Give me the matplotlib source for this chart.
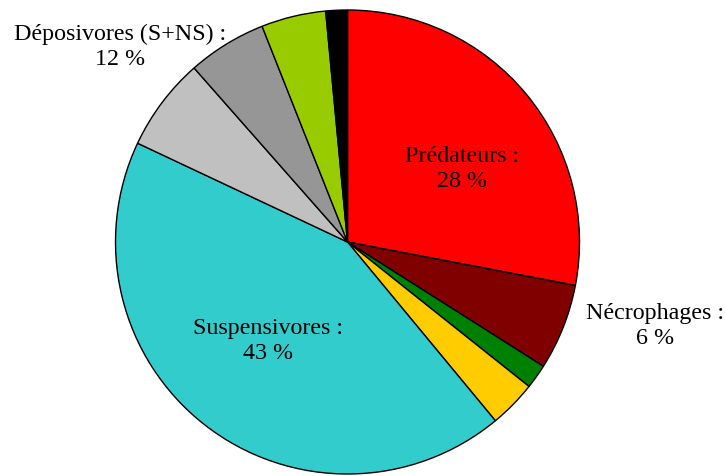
import matplotlib
matplotlib.use("Agg")
import matplotlib.pyplot as plt

# trophic groups, clockwise from 12 o'clock
groups = ["Prédateurs", "Nécrophages", "g1", "g2", "Suspensivores",
          "Déposivores S", "Déposivores NS", "g3", "g4"]
shares = [28, 6, 1.7, 3.3, 43, 6.5, 5.5, 4.5, 1.5]
colors = ["#FF0000", "#800000", "#008000", "#FFCC00", "#33CCCC",
          "#C0C0C0", "#969696", "#99CC00", "#000000"]

labels = [
    ("Prédateurs :\n28 %", 462, 169),
    ("Nécrophages :\n6 %", 655, 326),
    ("Suspensivores :\n43 %", 268, 341),
    ("Déposivores (S+NS) :\n12 %", 120, 47),
]

plt.rcParams["font.family"] = ["Liberation Serif", "DejaVu Serif"]

fig = plt.figure(figsize=(7.25, 4.77), dpi=100)
W, H = 725, 477
cx, cy, r = 347.5, 243, 232
ax = fig.add_axes([(cx - r) / W, (H - cy - r) / H, 2 * r / W, 2 * r / H])

ax.pie(shares, colors=colors, startangle=90, counterclock=False,
       wedgeprops=dict(edgecolor="black", linewidth=1.0))
ax.set_xlim(-1, 1)
ax.set_ylim(-1, 1)
ax.set_aspect("equal")
ax.axis("off")

for txt, px, py in labels:
    ax.text((px - cx) / r, (cy - py) / r, txt, ha="center", va="center",
            fontsize=17.3, color="black", linespacing=1.22)

fig.savefig("out.png", dpi=100)
